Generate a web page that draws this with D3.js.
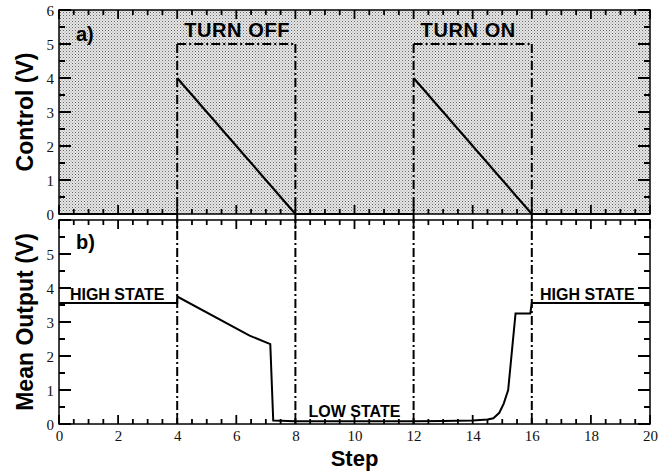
<!DOCTYPE html>
<meta charset="utf-8">
<script src="https://d3js.org/d3.v7.min.js"></script>
<style>
body { margin: 0; background: #fff; }
</style>
<div id="chart"></div>
<script>
// data
const stepTicks = d3.range(0, 21, 2);
const switchSteps = [4, 8, 12, 16];
const windows = [
  {label: "TURN OFF", start: 4, end: 8, level: 5},
  {label: "TURN ON", start: 12, end: 16, level: 5}
];
const controlOff = [[4, 4], [8, 0]];
const controlOn = [[12, 4], [16, 0]];
const controlIdle = [[[0, 0], [4, 0]], [[8, 0], [12, 0]], [[16, 0], [20, 0]]];
const outSteps = [0, 4, 4, 6.45, 7.15, 7.25, 8, 10, 12, 13, 14, 14.5, 14.7, 14.9, 15.05, 15.2, 15.3, 15.45, 15.95, 16, 20];
const outValues = [3.56, 3.56, 3.75, 2.6, 2.35, 0.1, 0.08, 0.08, 0.08, 0.09, 0.1, 0.13, 0.17, 0.33, 0.6, 1.0, 1.9, 3.25, 3.25, 3.56, 3.56];
const stateLabels = [
  {text: "HIGH STATE", step: 0.37, v: 3.65, anchor: "start"},
  {text: "HIGH STATE", step: 16.28, v: 3.65, anchor: "start"},
  {text: "LOW STATE", step: 10, v: 0.2, anchor: "middle"}
];

const W = 669, H = 474;
const SANS = "'Liberation Sans', Arial, Helvetica, sans-serif";
const SERIF = "'Liberation Serif', 'Times New Roman', serif";
const svg = d3.select("#chart").append("svg").attr("width", W).attr("height", H);

const x = d3.scaleLinear().domain([0, 20]).range([59, 650]);
const yTop = d3.scaleLinear().domain([0, 6]).range([214, 10]);
const yBot = d3.scaleLinear().domain([0, 6]).range([424, 220]);

// stipple pattern for panel a
const defs = svg.append("defs");
const pat = defs.append("pattern").attr("id", "dots").attr("width", 3).attr("height", 3)
  .attr("patternUnits", "userSpaceOnUse");
pat.append("rect").attr("width", 3).attr("height", 3).attr("fill", "#e6e6e6");
pat.append("rect").attr("width", 1).attr("height", 1).attr("fill", "#666");
pat.append("rect").attr("x", 1.5).attr("y", 1.5).attr("width", 1).attr("height", 1).attr("fill", "#999");

svg.append("rect").attr("x", x(0)).attr("y", yTop(6))
  .attr("width", x(20) - x(0)).attr("height", yTop(0) - yTop(6))
  .attr("fill", "url(#dots)");

const xAll = d3.range(0, 20.01, 0.5);
const yAll = d3.range(0, 6.01, 0.5);

// inward ticks on all four sides of a panel, as one path
function tickPath(y) {
  const p = d3.path();
  xAll.forEach(s => {
    const len = s % 2 === 0 ? 9 : 5;
    p.moveTo(x(s), y(0)); p.lineTo(x(s), y(0) - len);
    p.moveTo(x(s), y(6)); p.lineTo(x(s), y(6) + len);
  });
  yAll.forEach(v => {
    const len = v % 1 === 0 ? 12 : 6;
    p.moveTo(x(0), y(v)); p.lineTo(x(0) + len, y(v));
    p.moveTo(x(20), y(v)); p.lineTo(x(20) - len, y(v));
  });
  return p.toString();
}

function panelAxes(y, labelMax) {
  svg.append("path").attr("d", tickPath(y))
    .attr("fill", "none").attr("stroke", "#000").attr("stroke-width", 1.8);
  const left = svg.append("g").attr("transform", `translate(${x(0)},0)`)
    .call(d3.axisLeft(y).tickValues(d3.range(0, labelMax + 1)).tickSize(0).tickPadding(5)
      .tickFormat(d3.format("d")));
  left.select(".domain").remove();
  left.selectAll("text").attr("font-family", SERIF).attr("font-size", 15).attr("fill", "#111")
    .attr("dy", "0.34em");
  svg.append("rect").attr("x", x(0)).attr("y", y(6))
    .attr("width", x(20) - x(0)).attr("height", y(0) - y(6))
    .attr("fill", "none").attr("stroke", "#000").attr("stroke-width", 1.5);
}
panelAxes(yTop, 6);
panelAxes(yBot, 5);

const xLab = svg.append("g").attr("transform", `translate(0,${yBot(0)})`)
  .call(d3.axisBottom(x).tickValues(stepTicks).tickSize(0).tickPadding(6).tickFormat(d3.format("d")));
xLab.select(".domain").remove();
xLab.selectAll("text").attr("font-family", SERIF).attr("font-size", 15).attr("fill", "#111");

const dashDot = "9,3,2,3";
// vertical switch lines through both panels
svg.selectAll(".sw").data(switchSteps).enter().append("line")
  .attr("x1", d => x(d)).attr("x2", d => x(d))
  .attr("y1", yTop(5)).attr("y2", yBot(0))
  .attr("stroke", "#000").attr("stroke-width", 2).attr("stroke-dasharray", dashDot);
svg.selectAll(".wt").data(windows).enter().append("line")
  .attr("x1", d => x(d.start)).attr("x2", d => x(d.end))
  .attr("y1", d => yTop(d.level)).attr("y2", d => yTop(d.level))
  .attr("stroke", "#000").attr("stroke-width", 2).attr("stroke-dasharray", dashDot);
svg.selectAll(".wl").data(windows).enter().append("text")
  .attr("font-family", SANS).attr("font-weight", "bold").attr("font-size", 20)
  .attr("letter-spacing", 0.6)
  .attr("x", d => x(d.start) + 7).attr("y", d => yTop(d.level + 0.5) + 10)
  .text(d => d.label);

const line = d3.line().x(d => x(d[0]));
[controlOff, controlOn, ...controlIdle].forEach(seg => {
  svg.append("path").attr("d", line.y(d => yTop(d[1]))(seg))
    .attr("fill", "none").attr("stroke", "#000").attr("stroke-width", 2.2);
});

const outPts = outSteps.map((s, i) => [s, outValues[i]]);
svg.append("path").attr("d", line.y(d => yBot(d[1]))(outPts))
  .attr("fill", "none").attr("stroke", "#000").attr("stroke-width", 2);

svg.selectAll(".st").data(stateLabels).enter().append("text")
  .attr("font-family", SANS).attr("font-weight", "bold").attr("font-size", 16)
  .attr("x", d => x(d.step)).attr("y", d => yBot(d.v))
  .attr("text-anchor", d => d.anchor).text(d => d.text);

svg.append("text").attr("font-family", SANS).attr("font-weight", "bold").attr("font-size", 20)
  .attr("x", 76).attr("y", 41).text("a)");
svg.append("text").attr("font-family", SANS).attr("font-weight", "bold").attr("font-size", 20)
  .attr("x", 76).attr("y", 249).text("b)");

svg.append("text").attr("font-family", SANS).attr("font-weight", "bold").attr("font-size", 23)
  .attr("transform", `translate(33,${yTop(3)}) rotate(-90)`)
  .attr("text-anchor", "middle").text("Control (V)");
svg.append("text").attr("font-family", SANS).attr("font-weight", "bold").attr("font-size", 23)
  .attr("transform", `translate(33,${yBot(3)}) rotate(-90)`)
  .attr("text-anchor", "middle").text("Mean Output (V)");
svg.append("text").attr("font-family", SANS).attr("font-weight", "bold").attr("font-size", 22)
  .attr("x", x(10)).attr("y", 466).attr("text-anchor", "middle").text("Step");
</script>
